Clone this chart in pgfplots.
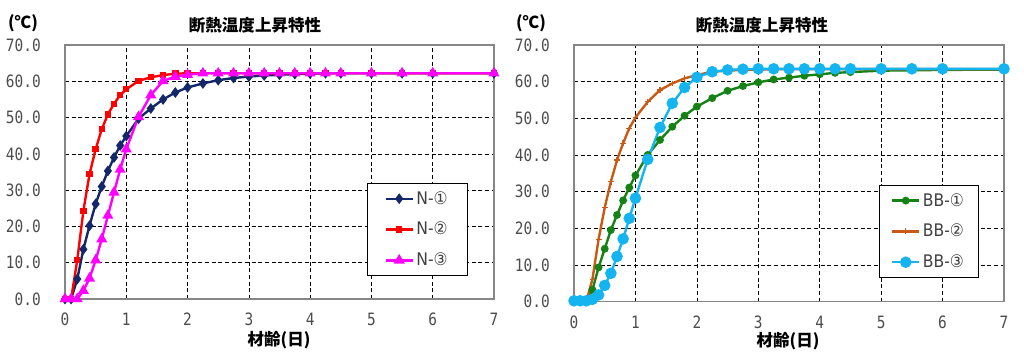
\documentclass[border=0pt]{standalone}
\usepackage{pgfplots}
\pgfplotsset{compat=1.18}
\usepackage{fontspec}
\setmainfont{Noto Sans CJK JP}
\newfontfamily\tickfont[FakeStretch=0.85]{DejaVu Sans Mono}
\newfontfamily\legfont[FakeStretch=0.9]{DejaVu Sans}
\definecolor{cNavy}{RGB}{20,40,105}
\definecolor{cRed}{RGB}{255,0,0}
\definecolor{cMag}{RGB}{255,0,255}
\definecolor{cGreen}{RGB}{20,130,20}
\definecolor{cOrange}{RGB}{200,90,20}
\definecolor{cCyan}{RGB}{20,180,240}
\definecolor{cFrame}{RGB}{134,134,134}
\pgfplotsset{
  chartbase/.style={
    scale only axis,
    xmin=0, xmax=7, ymin=0, ymax=70,
    xtick={0,1,2,3,4,5,6,7}, ytick={0,10,20,30,40,50,60,70},
    grid=major,
    major grid style={black, line width=0.5pt, dash pattern=on 3pt off 2pt},
    axis line style={draw=cFrame, line width=0.9pt},
    major tick length=0pt,
    tick label style={font=\tickfont\fontsize{12.75}{14}\selectfont, text=black!70},
    /pgf/number format/assume math mode=true,
    yticklabel={\pgfmathprintnumber[fixed,fixed zerofill,precision=1]{\tick}},
    yticklabel style={anchor=east, inner sep=0pt, xshift=-18pt},
    xticklabel style={anchor=north, inner sep=0pt, yshift=-10.5pt},
    clip=false,
    legend cell align=left,
    legend image code/.code={\draw[mark repeat=2,mark phase=2] plot coordinates {(0cm,0cm) (0.35cm,0cm) (0.7cm,0cm)};},
    legend style={anchor=north west, draw=black, line width=0.6pt, fill=white,
      font=\legfont\fontsize{13}{15}\selectfont, text=black!75,
      inner ysep=4pt, row sep=8pt},
  },
  ln/.style={line width=1.8pt},
}
\begin{document}
\begin{tikzpicture}
\path[use as bounding box] (0pt,0pt) rectangle (768pt,264.75pt);
% left chart
\begin{axis}[chartbase, at={(48.75pt,40.5pt)}, anchor=south west,
  width=321.75pt, height=190.5pt,
  legend style={at={(0.704,0.457)}, inner xsep=13pt}]
\addplot[ln, cNavy, mark=diamond*, mark size=2.6pt, mark options={solid}] coordinates {
(0,0) (0.1,0) (0.2,5.5) (0.3,13.7) (0.4,20.2) (0.5,26.2) (0.6,31.0) (0.7,35.3) (0.8,39.0) (0.9,42.3) (1.0,44.9)
(1.2,49.7) (1.4,52.5) (1.6,55.0) (1.8,56.9) (2.0,58.3) (2.25,59.4) (2.5,60.3) (2.75,60.9) (3.0,61.3)
(3.25,61.6) (3.5,61.8) (3.75,62.0) (4.0,62.1) (4.25,62.2) (4.5,62.2) (5,62.2) (5.5,62.2) (6,62.2) (7,62.2)};
\addlegendentry{N-①}
\addplot[ln, cRed, mark=square*, mark size=1.5pt] coordinates {
(0,0) (0.1,0) (0.2,10.7) (0.3,24.3) (0.4,34.4) (0.5,41.3) (0.6,46.8) (0.7,50.9) (0.8,53.8) (0.9,56.2) (1.0,57.8)
(1.2,60.1) (1.4,61.1) (1.6,61.7) (1.8,62.1) (2.0,62.2) (2.25,62.2) (2.5,62.2) (2.75,62.2) (3.0,62.2)
(3.25,62.2) (3.5,62.2) (3.75,62.2) (4.0,62.2) (4.25,62.2) (4.5,62.2) (5,62.2) (5.5,62.2) (6,62.2) (7,62.2)};
\addlegendentry{N-②}
\addplot[ln, cMag, mark=triangle*, mark size=3pt] coordinates {
(0,0) (0.1,0) (0.2,0) (0.3,2.3) (0.4,5.7) (0.5,10.7) (0.6,16.5) (0.7,23.0) (0.8,29.4) (0.9,35.7) (1.0,41.3)
(1.2,50.2) (1.4,56.2) (1.6,60.1) (1.8,61.3) (2.0,61.8) (2.25,62.2) (2.5,62.2) (2.75,62.2) (3.0,62.2)
(3.25,62.2) (3.5,62.2) (3.75,62.2) (4.0,62.2) (4.25,62.2) (4.5,62.2) (5,62.2) (5.5,62.2) (6,62.2) (7,62.2)};
\addlegendentry{N-③}
\end{axis}
% right chart
\begin{axis}[chartbase, at={(430.5pt,38.6pt)}, anchor=south west,
  width=322.5pt, height=192.4pt,
  legend style={at={(0.709,0.455)}, inner xsep=9pt}]
\addplot[ln, cGreen, mark=*, mark size=2pt] coordinates {
(0,0) (0.1,0) (0.2,0) (0.3,3.2) (0.4,9.3) (0.5,14.4) (0.6,19.5) (0.7,23.6) (0.8,27.6) (0.9,31.1) (1.0,34.4)
(1.2,40.0) (1.4,44.1) (1.6,47.7) (1.8,50.7) (2.0,53.2) (2.25,55.5) (2.5,57.5) (2.75,58.8) (3.0,59.8)
(3.25,60.6) (3.5,61.1) (3.75,61.6) (4.0,62.0) (4.25,62.4) (4.5,62.6) (5,63.0) (5.5,63.1) (6,63.2) (7,63.3)};
\addlegendentry{BB-①}
\addplot[ln, cOrange, mark=+, mark size=2.2pt, mark options={line width=1pt}] coordinates {
(0,0) (0.1,0) (0.2,0) (0.3,6.1) (0.4,17.0) (0.5,25.6) (0.6,32.7) (0.7,38.6) (0.8,43.2) (0.9,47.3) (1.0,50.2)
(1.2,54.5) (1.4,57.7) (1.6,59.5) (1.8,60.9) (2.0,61.8) (2.25,62.7) (2.5,63.0) (2.75,63.2) (3.0,63.3)
(3.25,63.4) (3.5,63.4) (3.75,63.4) (4.0,63.4) (4.25,63.4) (4.5,63.4) (5,63.4) (5.5,63.4) (6,63.4) (7,63.4)};
\addlegendentry{BB-②}
\addplot[ln, cCyan, mark=*, mark size=3.4pt] coordinates {
(0,0.2) (0.1,0.2) (0.2,0.2) (0.3,0.6) (0.4,1.8) (0.5,4.4) (0.6,7.7) (0.7,12.3) (0.8,17.1) (0.9,22.7) (1.0,28.2)
(1.2,38.8) (1.4,47.5) (1.6,54.1) (1.8,58.4) (2.0,61.2) (2.25,62.7) (2.5,63.2) (2.75,63.4) (3.0,63.5)
(3.25,63.5) (3.5,63.5) (3.75,63.5) (4.0,63.5) (4.25,63.5) (4.5,63.5) (5,63.5) (5.5,63.5) (6,63.5) (7,63.5)};
\addlegendentry{BB-③}
\end{axis}
% titles and labels
\begin{scope}[every node/.style={font=\bfseries\fontsize{12.4}{14}\selectfont, inner sep=0pt}]
\node at (191.25pt,245.6pt) {断熱温度上昇特性};
\node at (571.5pt,245.6pt) {断熱温度上昇特性};
\node at (209.25pt,9.75pt) {材齢(日)};
\node at (591pt,9pt) {材齢(日)};
\node at (17.25pt,247.5pt) {(℃)};
\node at (398.25pt,247.5pt) {(℃)};
\end{scope}
\end{tikzpicture}
\end{document}
